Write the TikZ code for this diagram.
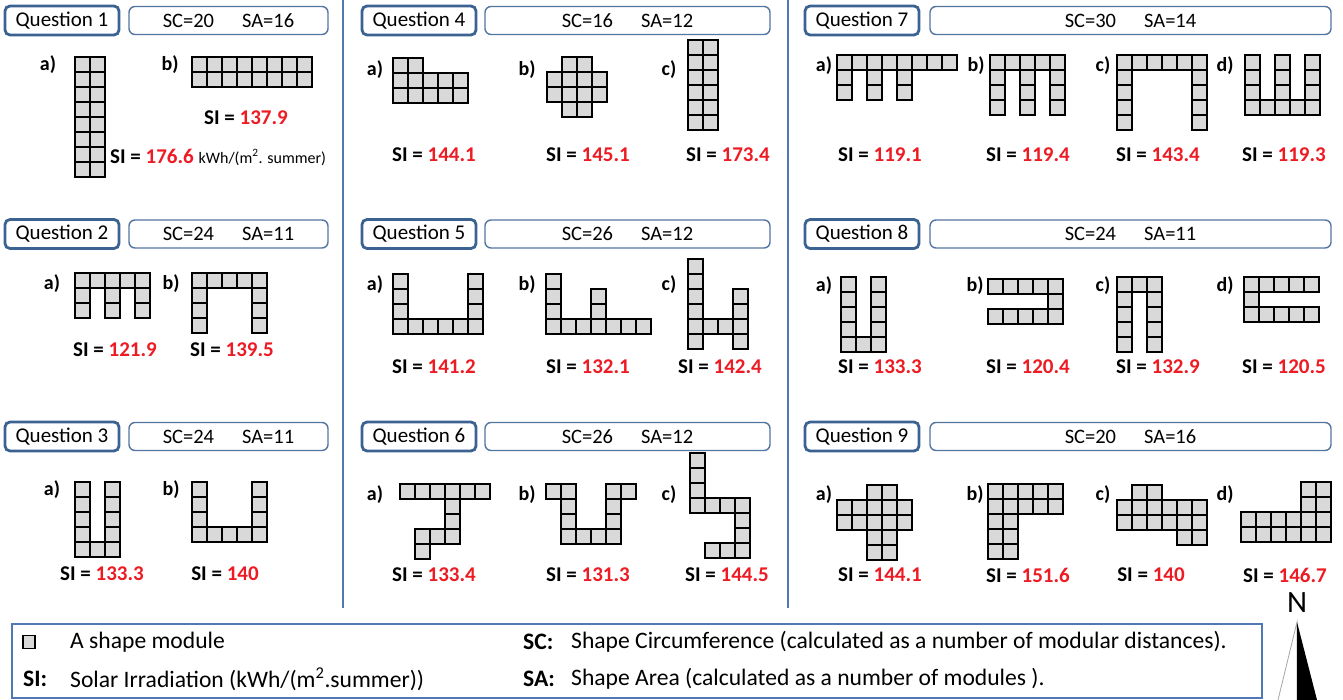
\documentclass[tikz,border=0pt]{standalone}
\usepackage{fontspec}
\setmainfont{Carlito}
\definecolor{qblue}{RGB}{60,98,145}
\definecolor{scblue}{RGB}{84,118,163}
\definecolor{sepblue}{RGB}{79,120,180}
\definecolor{modgray}{RGB}{217,217,217}
\definecolor{sired}{RGB}{237,28,36}
\newcommand{\blk}[4]{\foreach \cc in {#1,...,#2}{\foreach \rr in {#3,...,#4}{\draw[module] (15*\cc,15*\rr) rectangle ++(15,15);}}}
\tikzset{
 qbox/.style={draw=qblue, line width=2.8pt, rounded corners=5pt, fill=white, minimum width=114pt, minimum height=29pt, inner sep=0pt, font=\fontsize{21}{25}\selectfont},
 scbox/.style={draw=scblue, line width=1.4pt, rounded corners=6pt, fill=white, minimum height=28pt, inner sep=0pt, font=\fontsize{20.5}{25}\selectfont},
 module/.style={draw=black, fill=modgray, line width=2pt},
 lbl/.style={font=\bfseries\fontsize{20}{24}\selectfont},
 si/.style={font=\bfseries\fontsize{21}{25}\selectfont},
 sep/.style={draw=sepblue, line width=2.5pt},
 legtxt/.style={font=\fontsize{23.6}{28}\selectfont, anchor=west, inner sep=0pt},
 legbold/.style={font=\bfseries\fontsize{23.6}{28}\selectfont, anchor=west, inner sep=0pt},
}
\newcommand{\scsa}[2]{SC=#1\hspace{28pt}SA=#2}
\begin{document}
\begin{tikzpicture}[x=1pt,y=-1pt]
\useasboundingbox (0,0) rectangle (1343,700);
\fill[white] (0,0) rectangle (1343,700);

% separators
\coordinate (s1t) at (343,0); \coordinate (s1b) at (343,608);
\coordinate (s2t) at (788,0); \coordinate (s2b) at (788,608);
\draw[sep] (s1t) -- (s1b);
\draw[sep] (s2t) -- (s2b);

% headers column 1
\node[qbox] (q1) at (62,20.5) {Question 1};
\node[scbox, minimum width=199pt] (sc1) at (228.5,20.5) {\scsa{20}{16}};
\node[qbox] (q2) at (62,234) {Question 2};
\node[scbox, minimum width=199pt] (sc2) at (228.5,234) {\scsa{24}{11}};
\node[qbox] (q3) at (62,436.5) {Question 3};
\node[scbox, minimum width=199pt] (sc3) at (228.5,436.5) {\scsa{24}{11}};
% headers column 2
\node[qbox] (q4) at (419,20.5) {Question 4};
\node[scbox, minimum width=285pt] (sc4) at (627.5,20.5) {\scsa{16}{12}};
\node[qbox] (q5) at (419,234) {Question 5};
\node[scbox, minimum width=285pt] (sc5) at (627.5,234) {\scsa{26}{12}};
\node[qbox] (q6) at (419,436.5) {Question 6};
\node[scbox, minimum width=285pt] (sc6) at (627.5,436.5) {\scsa{26}{12}};
% headers column 3
\node[qbox] (q7) at (862,20.5) {Question 7};
\node[scbox, minimum width=401pt] (sc7) at (1130.5,20.5) {\scsa{30}{14}};
\node[qbox] (q8) at (862,234) {Question 8};
\node[scbox, minimum width=401pt] (sc8) at (1130.5,234) {\scsa{24}{11}};
\node[qbox] (q9) at (862,436.5) {Question 9};
\node[scbox, minimum width=401pt] (sc9) at (1130.5,436.5) {\scsa{20}{16}};

% ---------- Question 1
\node[lbl] (l1a) at (48,65) {a)};
\node[lbl] (l1b) at (170,65) {b)};
\begin{scope}[shift={(75,57)}] \blk{0}{1}{0}{7} \end{scope}
\begin{scope}[shift={(192,57)}] \blk{0}{7}{0}{1} \end{scope}
\node[si] (si1b) at (246,118) {SI = \textcolor{sired}{137.9}};
\node[si, anchor=west, inner sep=0pt] (si1a) at (110,157) {SI = \textcolor{sired}{176.6} {\normalfont\fontsize{16}{19}\selectfont kWh/(m\textsuperscript{2}. summer)}};

% ---------- Question 2
\node[lbl] (l2a) at (52,284) {a)};
\node[lbl] (l2b) at (171,284) {b)};
\begin{scope}[shift={(75,273)}] \blk{0}{4}{0}{0} \blk{0}{0}{1}{2} \blk{2}{2}{1}{2} \blk{4}{4}{1}{2} \end{scope}
\begin{scope}[shift={(192,273)}] \blk{0}{4}{0}{0} \blk{0}{0}{1}{3} \blk{4}{4}{1}{3} \end{scope}
\node[si] (si2a) at (115,350) {SI = \textcolor{sired}{121.9}};
\node[si] (si2b) at (232,350) {SI = \textcolor{sired}{139.5}};

% ---------- Question 3
\node[lbl] (l3a) at (52,490) {a)};
\node[lbl] (l3b) at (171,490) {b)};
\begin{scope}[shift={(75,482)}] \blk{0}{0}{0}{3} \blk{2}{2}{0}{3} \blk{0}{2}{4}{4} \end{scope}
\begin{scope}[shift={(192,482)}] \blk{0}{0}{0}{2} \blk{4}{4}{0}{2} \blk{0}{4}{3}{3} \end{scope}
\node[si] (si3a) at (102,574) {SI = \textcolor{sired}{133.3}};
\node[si] (si3b) at (225,574) {SI = \textcolor{sired}{140}};

% ---------- Question 4
\node[lbl] (l4a) at (375,70) {a)};
\node[lbl] (l4b) at (527,70) {b)};
\node[lbl] (l4c) at (669,70) {c)};
\begin{scope}[shift={(393,58)}] \blk{0}{1}{0}{0} \blk{0}{4}{1}{2} \end{scope}
\begin{scope}[shift={(547,57)}] \blk{1}{2}{0}{0} \blk{0}{3}{1}{2} \blk{1}{2}{3}{3} \end{scope}
\begin{scope}[shift={(688,40)}] \blk{0}{1}{0}{5} \end{scope}
\node[si] (si4a) at (434,155) {SI = \textcolor{sired}{144.1}};
\node[si] (si4b) at (588,155) {SI = \textcolor{sired}{145.1}};
\node[si] (si4c) at (728,155) {SI = \textcolor{sired}{173.4}};

% ---------- Question 5
\node[lbl] (l5a) at (375,285) {a)};
\node[lbl] (l5b) at (527,285) {b)};
\node[lbl] (l5c) at (669,285) {c)};
\begin{scope}[shift={(393,274)}] \blk{0}{0}{0}{2} \blk{5}{5}{0}{2} \blk{0}{5}{3}{3} \end{scope}
\begin{scope}[shift={(546,274)}] \blk{0}{0}{0}{2} \blk{3}{3}{1}{2} \blk{0}{6}{3}{3} \end{scope}
\begin{scope}[shift={(688,259)}] \blk{0}{0}{0}{5} \blk{3}{3}{2}{5} \blk{1}{2}{4}{4} \end{scope}
\node[si] (si5a) at (434,367) {SI = \textcolor{sired}{141.2}};
\node[si] (si5b) at (588,367) {SI = \textcolor{sired}{132.1}};
\node[si] (si5c) at (720,367) {SI = \textcolor{sired}{142.4}};

% ---------- Question 6
\node[lbl] (l6a) at (375,495) {a)};
\node[lbl] (l6b) at (527,495) {b)};
\node[lbl] (l6c) at (669,495) {c)};
\begin{scope}[shift={(400,484)}] \blk{0}{5}{0}{0} \blk{3}{3}{1}{2} \blk{1}{3}{3}{3} \blk{1}{1}{4}{4} \end{scope}
\begin{scope}[shift={(546,484)}] \blk{0}{1}{0}{0} \blk{4}{5}{0}{0} \blk{1}{1}{1}{2} \blk{4}{4}{1}{2} \blk{1}{4}{3}{3} \end{scope}
\begin{scope}[shift={(690,453)}] \blk{0}{0}{0}{3} \blk{1}{3}{3}{3} \blk{3}{3}{4}{6} \blk{1}{2}{6}{6} \end{scope}
\node[si] (si6a) at (434,575) {SI = \textcolor{sired}{133.4}};
\node[si] (si6b) at (588,575) {SI = \textcolor{sired}{131.3}};
\node[si] (si6c) at (727,575) {SI = \textcolor{sired}{144.5}};

% ---------- Question 7
\node[lbl] (l7a) at (824,66) {a)};
\node[lbl] (l7b) at (976,66) {b)};
\node[lbl] (l7c) at (1103,66) {c)};
\node[lbl] (l7d) at (1225,66) {d)};
\begin{scope}[shift={(837,55)}] \blk{0}{7}{0}{0} \blk{0}{0}{1}{2} \blk{2}{2}{1}{2} \blk{4}{4}{1}{2} \end{scope}
\begin{scope}[shift={(990,55)}] \blk{0}{4}{0}{0} \blk{0}{0}{1}{3} \blk{2}{2}{1}{3} \blk{4}{4}{1}{3} \end{scope}
\begin{scope}[shift={(1117,55)}] \blk{0}{5}{0}{0} \blk{0}{0}{1}{4} \blk{5}{5}{1}{4} \end{scope}
\begin{scope}[shift={(1245,55)}] \blk{0}{0}{0}{2} \blk{2}{2}{0}{2} \blk{4}{4}{0}{2} \blk{0}{4}{3}{3} \end{scope}
\node[si] (si7a) at (880,155) {SI = \textcolor{sired}{119.1}};
\node[si] (si7b) at (1028,155) {SI = \textcolor{sired}{119.4}};
\node[si] (si7c) at (1158,155) {SI = \textcolor{sired}{143.4}};
\node[si] (si7d) at (1284,155) {SI = \textcolor{sired}{119.3}};

% ---------- Question 8
\node[lbl] (l8a) at (824,286) {a)};
\node[lbl] (l8b) at (975,286) {b)};
\node[lbl] (l8c) at (1103,286) {c)};
\node[lbl] (l8d) at (1225,286) {d)};
\begin{scope}[shift={(841,277)}] \blk{0}{0}{0}{3} \blk{2}{2}{0}{3} \blk{0}{2}{4}{4} \end{scope}
\begin{scope}[shift={(988,279)}] \blk{0}{4}{0}{0} \blk{4}{4}{1}{1} \blk{0}{4}{2}{2} \end{scope}
\begin{scope}[shift={(1117,277)}] \blk{0}{2}{0}{0} \blk{0}{0}{1}{4} \blk{2}{2}{1}{4} \end{scope}
\begin{scope}[shift={(1244,277)}] \blk{0}{4}{0}{0} \blk{0}{0}{1}{1} \blk{0}{4}{2}{2} \end{scope}
\node[si] (si8a) at (880,367) {SI = \textcolor{sired}{133.3}};
\node[si] (si8b) at (1028,367) {SI = \textcolor{sired}{120.4}};
\node[si] (si8c) at (1158,367) {SI = \textcolor{sired}{132.9}};
\node[si] (si8d) at (1284,367) {SI = \textcolor{sired}{120.5}};

% ---------- Question 9
\node[lbl] (l9a) at (824,495) {a)};
\node[lbl] (l9b) at (975,495) {b)};
\node[lbl] (l9c) at (1103,495) {c)};
\node[lbl] (l9d) at (1225,495) {d)};
\begin{scope}[shift={(837,485)}] \blk{2}{3}{0}{0} \blk{0}{4}{1}{2} \blk{2}{3}{3}{4} \end{scope}
\begin{scope}[shift={(988,484)}] \blk{0}{4}{0}{1} \blk{0}{1}{2}{4} \end{scope}
\begin{scope}[shift={(1117,485)}] \blk{1}{2}{0}{0} \blk{0}{5}{1}{2} \blk{4}{5}{3}{3} \end{scope}
\begin{scope}[shift={(1241,482)}] \blk{4}{5}{0}{1} \blk{0}{5}{2}{3} \end{scope}
\node[si] (si9a) at (880,575) {SI = \textcolor{sired}{144.1}};
\node[si] (si9b) at (1028,575) {SI = \textcolor{sired}{151.6}};
\node[si] (si9c) at (1151,575) {SI = \textcolor{sired}{140}};
\node[si] (si9d) at (1285,575) {SI = \textcolor{sired}{146.7}};

% ---------- Legend
\node[draw=sepblue, line width=1.8pt, minimum width=1250pt, minimum height=74pt, inner sep=0pt] (legend) at (637,661) {};
\node[draw=black, fill=modgray, line width=1.6pt, minimum width=12pt, minimum height=13pt, inner sep=0pt] (legmod) at (29,642) {};
\node[legtxt] (legmodt) at (70,642) {A shape module};
\node[legbold] (legsi) at (23,679) {SI:};
\node[legtxt] (legsit) at (70,679) {Solar Irradiation (kWh/(m\textsuperscript{2}.summer))};
\node[legbold] (legsc) at (523,642) {SC:};
\node[legtxt] (legsct) at (571,642) {Shape Circumference (calculated as a number of modular distances).};
\node[legbold] (legsa) at (523,679) {SA:};
\node[legtxt] (legsat) at (571,679) {Shape Area (calculated as a number of modules ).};

% ---------- North arrow
\node[font=\fontsize{31}{35}\selectfont, inner sep=0pt] (north) at (1297,603) {N};
\coordinate (apex) at (1297,622);
\coordinate (bl) at (1278,700);
\coordinate (bm) at (1297,700);
\coordinate (br) at (1317,700);
\draw[gray!70, line width=0.8pt] (bm) -- (apex) -- (bl);
\fill[black] (apex) -- (bm) -- (br) -- cycle;
\end{tikzpicture}
\end{document}
